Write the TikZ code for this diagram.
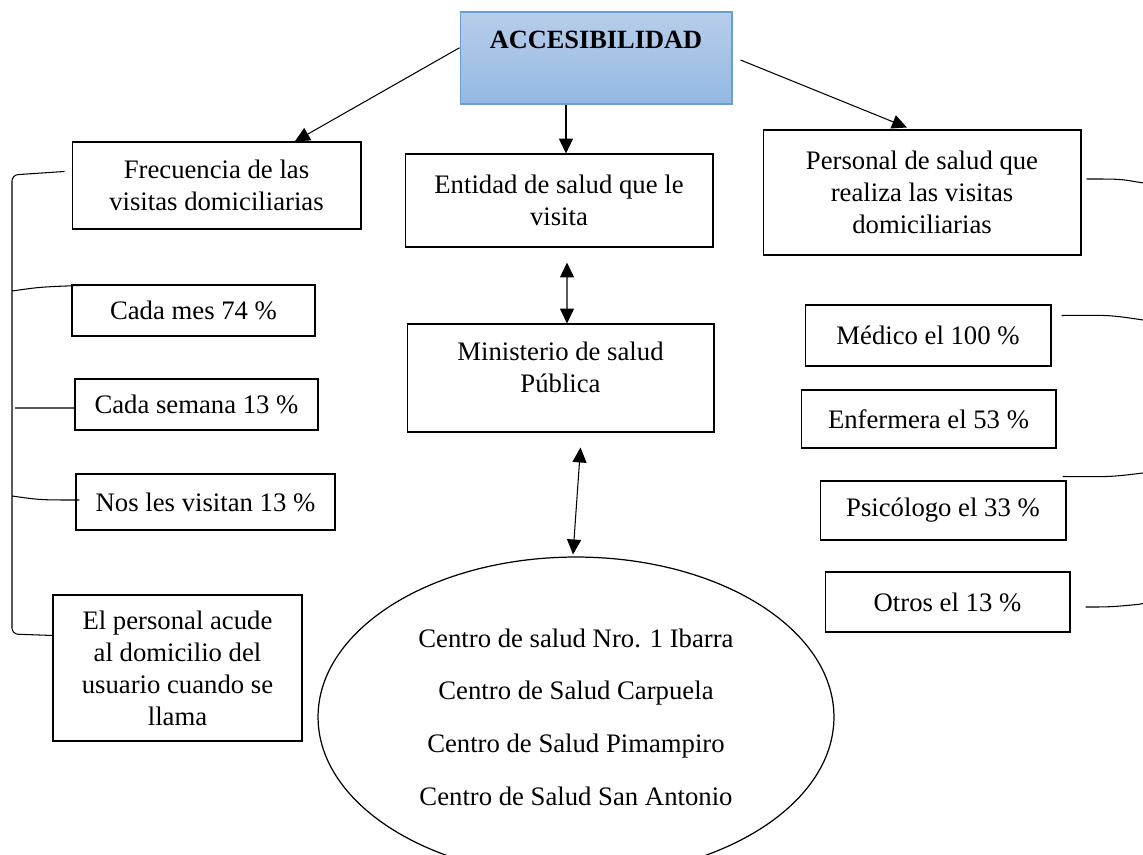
\documentclass[tikz,border=0pt]{standalone}
\usepackage{fontspec}
\setmainfont{Liberation Serif}
\usetikzlibrary{arrows.meta,calc,shapes.geometric}
\definecolor{acctop}{HTML}{B8CEEA}
\definecolor{accbot}{HTML}{94B8E3}
\definecolor{accline}{HTML}{6A9FD6}
\newcommand{\txt}{\fontsize{15.2}{18.2}\selectfont}
\begin{document}
\begin{tikzpicture}[
                            x=0.02cm, y=-0.02cm,
                            >={Triangle[length=8.5pt,width=8pt]},
                            box/.style={rectangle, draw, line width=0.6pt, align=center, inner sep=0pt, font=\txt},
                            link/.style={line width=0.6pt},
                            brace/.style={line width=0.6pt, rounded corners=0.12cm}
                        ]
                        \useasboundingbox (0,0) rectangle (1143,855);
                        % Blocks
                        \node [box, draw=accline, top color=acctop, bottom color=accbot, minimum width=5.44cm, minimum height=1.84cm,
                               font=\fontsize{15}{18}\selectfont\bfseries, text height=11pt, text depth=22pt] (acc) at (596,58) {ACCESIBILIDAD};
                        \node [box, minimum width=5.78cm, minimum height=1.74cm] (freq) at (216.5,185.5) {Frecuencia de las\\visitas domiciliarias};
                        \node [box, minimum width=6.16cm, minimum height=1.86cm] (ent) at (559,200.5) {Entidad de salud que le\\visita};
                        \node [box, minimum width=6.36cm, minimum height=2.5cm] (pers) at (922,192.5) {Personal de salud que\\realiza las visitas\\domiciliarias};
                        \node [box, minimum width=6.14cm, minimum height=2.16cm, text depth=12pt] (min) at (560.5,378) {Ministerio de salud\\Pública};
                        \node [box, minimum width=4.86cm, minimum height=1.02cm] (mes) at (193.5,310.5) {Cada mes 74 \%};
                        \node [box, minimum width=4.86cm, minimum height=1.02cm] (sem) at (196.5,404.5) {Cada semana 13 \%};
                        \node [box, minimum width=5.18cm, minimum height=1.12cm] (nos) at (205.5,502) {Nos les visitan 13 \%};
                        \node [box, minimum width=4.98cm, minimum height=2.92cm] (acude) at (177.5,668) {El personal acude\\al domicilio del\\usuario cuando se\\llama};
                        \node [box, minimum width=4.92cm, minimum height=1.22cm] (med) at (928,335.5) {Médico el 100 \%};
                        \node [box, minimum width=5.1cm, minimum height=1.16cm] (enf) at (928.5,419) {Enfermera el 53 \%};
                        \node [box, minimum width=4.92cm, minimum height=1.18cm] (psic) at (943,510.5) {Psicólogo el 33 \%};
                        \node [box, minimum width=4.9cm, minimum height=1.2cm] (otros) at (947.5,602) {Otros el 13 \%};
                        \node [ellipse, draw, line width=0.7pt, align=center, inner sep=0pt, minimum width=10.32cm, minimum height=6.4cm,
                               font=\fontsize{15.2}{30}\selectfont] (centros) at (576,717)
                              {Centro de salud Nro. 1 Ibarra\\Centro de Salud Carpuela\\Centro de Salud Pimampiro\\Centro de Salud San Antonio};
                        \coordinate (ltop) at (12,175);
                        \coordinate (lbot) at (12,634);
                        \coordinate (rtop) at (1152,184);
                        \coordinate (rbot) at (1152,600);

                        % Connections
                        \draw [link,->] ($(acc.north west)!0.39!(acc.south west)$) -- ($(freq.north west)!0.77!(freq.north east)$);
                        \draw [link,->] ($(acc.south west)!0.39!(acc.south east)$) coordinate (mid) -- (mid |- ent.north);
                        \draw [link,->] ($(acc.east)+(8,2)$) -- ($(pers.north)+(-15,-2)$);
                        \draw [link,<->] ($(ent.south)+(8,15)$) -- ($(min.north)+(6.5,0)$);
                        \draw [link,<->] ($(min.south)+(20,15)$) -- ($(centros.north)+(-3,-2)$);

                        % Brackets
                        \draw [brace] ($(freq.north west)+(-7,30)$) -- (ltop) -- (lbot) -- ($(acude.north west)+(0,41)$);
                        \draw [link] ($(mes.north west)+(8,1)$) .. controls (40,287) .. (12,291);
                        \draw [link] ($(sem.west)+(0,3.5)$) -- (15,408);
                        \draw [link] ($(nos.west)+(4,-2)$) .. controls (40,500) .. (12,496);
                        \draw [brace] ($(pers.east)+(5,-13.5)$) .. controls (1120,179) .. (1143,183) -- (rtop) -- (rbot) -- (1143,604) .. controls (1110,607) .. ($(otros.east)+(15,5)$);
                        \draw [link] ($(med.east)+(10,-20)$) .. controls (1110,315) .. (1143,320);
                        \draw [link] ($(psic.north east)+(-4,-4)$) .. controls (1110,477) .. (1143,473);
                    \end{tikzpicture}
\end{document}
